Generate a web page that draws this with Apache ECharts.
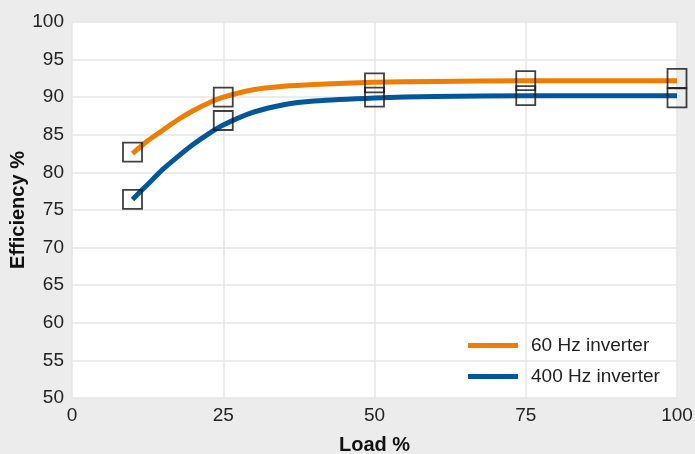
<!DOCTYPE html>
<html>
<head>
<meta charset="utf-8">
<script src="https://cdn.jsdelivr.net/npm/echarts@6/dist/echarts.min.js"></script>
<style>
html,body{margin:0;padding:0;background:#ececec;}
#c{width:695px;height:454px;}
</style>
</head>
<body>
<div id="c"></div>
<script>
// Fitted curves
const curveLoad = [10, 12.5, 15, 17.5, 20, 22.5, 25, 30, 35, 40, 50, 60, 75, 100];
const curve60Hz = [82.5, 84.2, 85.6, 87.0, 88.2, 89.2, 90.0, 91.0, 91.45, 91.7, 92.0, 92.1, 92.2, 92.2];
const curve400Hz = [76.4, 78.4, 80.4, 82.1, 83.7, 85.1, 86.3, 88.0, 89.0, 89.5, 89.9, 90.1, 90.2, 90.2];
// Measured points (square markers)
const pointLoad = [10, 25, 50, 75, 100];
const points60Hz = [82.7, 90.0, 91.9, 92.2, 92.5];
const points400Hz = [76.4, 86.9, 90.0, 90.2, 89.9];
const seriesNames = ['60 Hz inverter', '400 Hz inverter'];
const xTicks = [0, 25, 50, 75, 100];
const yTicks = [50, 55, 60, 65, 70, 75, 80, 85, 90, 95, 100];

const FONT = '"Liberation Sans", Arial, sans-serif';
const ORANGE = '#ef7d00';
const BLUE = '#00589a';
const pair = (xs, ys) => xs.map((x, i) => [x, ys[i]]);

const chart = echarts.init(document.getElementById('c'));
chart.setOption({
  backgroundColor: '#ececec',
  animation: false,
  textStyle: { fontFamily: FONT },
  grid: { left: 72, right: 18, top: 22, bottom: 56, show: true, backgroundColor: '#ffffff', borderWidth: 0,
          containLabel: false, outerBoundsMode: 'none' },
  legend: {
    data: seriesNames,
    orient: 'vertical',
    left: 463,
    top: 331,
    itemWidth: 50,
    itemHeight: 5,
    itemGap: 12,
    icon: 'rect',
    textStyle: { fontFamily: FONT, fontSize: 19, color: '#222', padding: [0, 0, 0, 8] }
  },
  xAxis: {
    type: 'value', min: xTicks[0], max: xTicks[xTicks.length - 1], interval: 25,
    name: 'Load %', nameLocation: 'middle', nameGap: 37, nameMoveOverlap: false,
    nameTextStyle: { fontFamily: FONT, fontSize: 20, fontWeight: 'bold', color: '#111' },
    axisLine: { show: false }, axisTick: { show: false },
    axisLabel: { fontFamily: FONT, fontSize: 19, color: '#222', margin: 8 },
    splitLine: { show: true, lineStyle: { color: '#e6e6e6', width: 1.5 } }
  },
  yAxis: {
    type: 'value', min: yTicks[0], max: yTicks[yTicks.length - 1], interval: 5,
    name: 'Efficiency %', nameLocation: 'middle', nameGap: 44, nameMoveOverlap: false,
    nameTextStyle: { fontFamily: FONT, fontSize: 20, fontWeight: 'bold', color: '#111' },
    axisLine: { show: false }, axisTick: { show: false },
    axisLabel: { fontFamily: FONT, fontSize: 19, color: '#222', margin: 8 },
    splitLine: { show: true, lineStyle: { color: '#e6e6e6', width: 1.5 } }
  },
  series: [
    {
      name: seriesNames[0], type: 'line', data: pair(curveLoad, curve60Hz),
      smooth: 0.25, showSymbol: false, symbol: 'none',
      color: ORANGE, lineStyle: { color: ORANGE, width: 5 }, z: 2
    },
    {
      name: seriesNames[1], type: 'line', data: pair(curveLoad, curve400Hz),
      smooth: 0.25, showSymbol: false, symbol: 'none',
      color: BLUE, lineStyle: { color: BLUE, width: 5 }, z: 2
    },
    {
      name: 'pts60', type: 'scatter', data: pair(pointLoad, points60Hz),
      symbol: 'rect', symbolSize: 19,
      itemStyle: { color: 'rgba(0,0,0,0)', borderColor: '#111', borderWidth: 1.8 }, z: 5
    },
    {
      name: 'pts400', type: 'scatter', data: pair(pointLoad, points400Hz),
      symbol: 'rect', symbolSize: 19,
      itemStyle: { color: 'rgba(0,0,0,0)', borderColor: '#111', borderWidth: 1.8 }, z: 5
    }
  ]
});
</script>
</body>
</html>
